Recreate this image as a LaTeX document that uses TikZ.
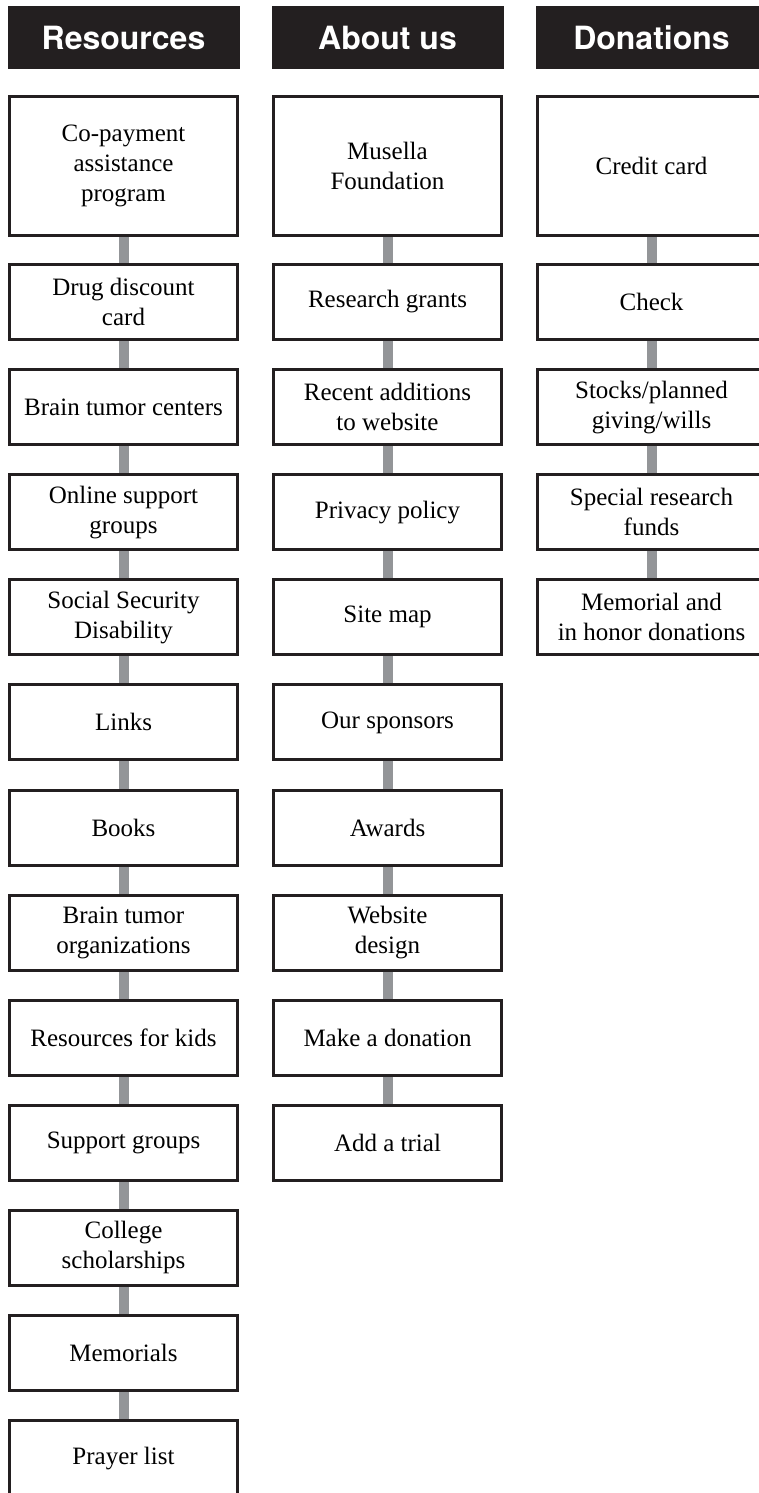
\documentclass[tikz,border=0pt]{standalone}
\usepackage{fontspec}
\setmainfont{Liberation Serif}
\setsansfont{TeX Gyre Heros}
\usetikzlibrary{backgrounds}
\definecolor{dunkel}{RGB}{35,31,32}
\definecolor{steg}{RGB}{147,149,152}

\begin{document}
\begin{tikzpicture}[x=1pt, y=-1pt,
	kopf/.style={fill=dunkel, text=white, minimum width=232pt,
		minimum height=63pt, inner sep=0pt,
		font=\sffamily\bfseries\fontsize{32}{32}\selectfont},
	kasten/.style={draw=dunkel, line width=3pt, fill=white,
		minimum width=228pt, minimum height=75pt, inner sep=0pt,
		align=center, font=\fontsize{25}{30}\selectfont},
	verbinder/.style={draw=steg, line width=10pt}]
	\useasboundingbox (0,0) rectangle (758,1493);

	% Spaltenkoepfe
	\node[kopf] (kopfres) at (123.5, 37.5) {Resources};
	\node[kopf] (kopfabt) at (387.5, 37.5) {About us};
	\node[kopf] (kopfdon) at (651.5, 37.5) {Donations};

	% erste Zeile (hoch)
	\node[kasten, minimum height=139pt] (res1) at (123.5, 166)
		{Co-payment\\assistance\\program};
	\node[kasten, minimum height=139pt] (abt1) at (387.5, 166)
		{Musella\\Foundation};
	\node[kasten, minimum height=139pt] (don1) at (651.5, 166)
		{Credit card};

	% Resources
	\foreach \txt [count=\i from 2] in {{Drug discount\\card},
		{Brain tumor centers}, {Online support\\groups},
		{Social Security\\Disability}, {Links}, {Books},
		{Brain tumor\\organizations}, {Resources for kids},
		{Support groups}, {College\\scholarships}, {Memorials},
		{Prayer list}}
		\node[kasten] (res\i) at (123.5, {302+(\i-2)*105.1}) {\txt};

	% About us
	\foreach \txt [count=\i from 2] in {{Research grants},
		{Recent additions\\to website}, {Privacy policy}, {Site map},
		{Our sponsors}, {Awards}, {Website\\design},
		{Make a donation}, {Add a trial}}
		\node[kasten] (abt\i) at (387.5, {302+(\i-2)*105.1}) {\txt};

	% Donations
	\foreach \txt [count=\i from 2] in {{Check},
		{Stocks/planned\\giving/wills}, {Special research\\funds},
		{Memorial and\\in honor donations}}
		\node[kasten] (don\i) at (651.5, {302+(\i-2)*105.1}) {\txt};

	% Verbindungen
	\begin{scope}[on background layer]
		\foreach \i [remember=\i as \vor (initially 1)] in {2,...,13}
			\draw[verbinder] (res\vor) -- (res\i);
		\foreach \i [remember=\i as \vor (initially 1)] in {2,...,10}
			\draw[verbinder] (abt\vor) -- (abt\i);
		\foreach \i [remember=\i as \vor (initially 1)] in {2,...,5}
			\draw[verbinder] (don\vor) -- (don\i);
	\end{scope}
\end{tikzpicture}
\end{document}
